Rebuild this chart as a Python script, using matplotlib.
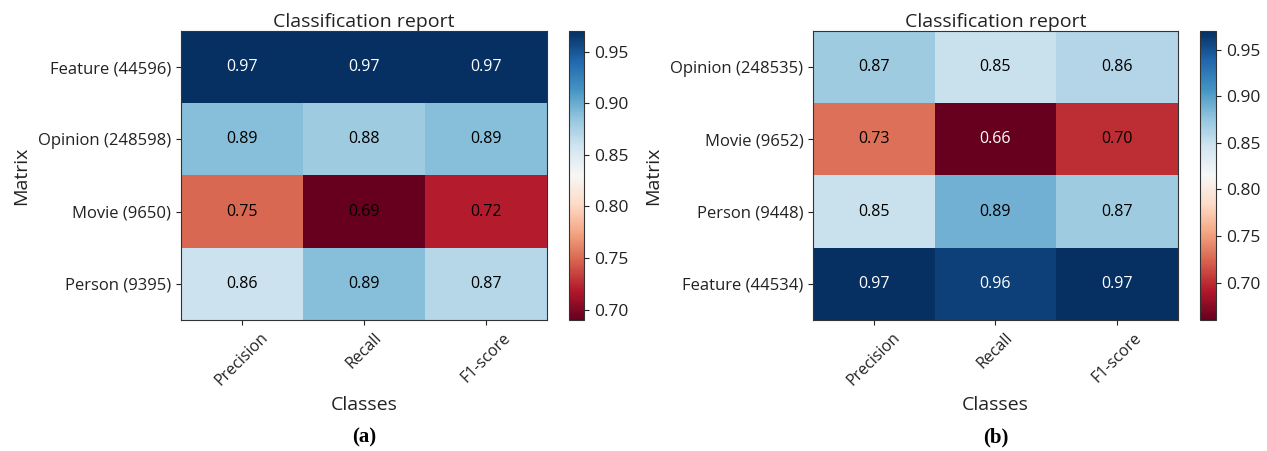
import matplotlib.pyplot as plt
import numpy as np

plt.rcParams['font.family'] = ['Open Sans', 'DejaVu Sans']
plt.rcParams['text.color'] = '#222222'
plt.rcParams['axes.labelcolor'] = '#222222'
plt.rcParams['xtick.color'] = '#222222'
plt.rcParams['ytick.color'] = '#222222'

metrics = ["Precision", "Recall", "F1-score"]

# panel (a)
rows_a = ["Feature (44596)", "Opinion (248598)", "Movie (9650)", "Person (9395)"]
scores_a = [
    [0.97, 0.97, 0.97],
    [0.89, 0.88, 0.89],
    [0.75, 0.69, 0.72],
    [0.86, 0.89, 0.87],
]

# panel (b)
rows_b = ["Opinion (248535)", "Movie (9652)", "Person (9448)", "Feature (44534)"]
scores_b = [
    [0.87, 0.85, 0.86],
    [0.73, 0.66, 0.70],
    [0.85, 0.89, 0.87],
    [0.97, 0.96, 0.97],
]

fig = plt.figure(figsize=(12.67, 4.51), dpi=100)


def draw_report(ax_rect, cax_rect, rows, scores, tag):
    data = np.array(scores)
    ax = fig.add_axes(ax_rect)
    cax = fig.add_axes(cax_rect)
    im = ax.imshow(data, cmap="RdBu", aspect="auto",
                   vmin=data.min(), vmax=data.max(), interpolation="nearest")
    for i in range(data.shape[0]):
        for j in range(data.shape[1]):
            v = data[i, j]
            c = "white" if (v >= 0.95 or v <= 0.66) else "black"
            ax.text(j, i, f"{v:.2f}", ha="center", va="center",
                    color=c, fontsize=11.5)
    ax.set_xticks(np.arange(len(metrics)))
    ax.set_xticklabels(metrics, rotation=45, fontsize=11.5)
    ax.set_yticks(np.arange(len(rows)))
    ax.set_yticklabels(rows, fontsize=12)
    ax.set_title("Classification report", fontsize=14, pad=3)
    ax.set_xlabel("Classes", fontsize=14, labelpad=5)
    ax.set_ylabel("Matrix", fontsize=14, labelpad=6)
    for s in ax.spines.values():
        s.set_color("#333333")
    cb = fig.colorbar(im, cax=cax)
    cb.ax.tick_params(labelsize=12.5)
    cb.outline.set_edgecolor("#333333")
    cx = ax_rect[0] + ax_rect[2] / 2
    fig.text(cx, 0.008, tag, ha="center", va="bottom", fontsize=15,
             fontweight="bold", family="Liberation Serif", color="black")
    return ax


W, H = 1267, 451
draw_report([181 / W, 131 / H, 366 / W, 289 / H],
            [569 / W, 131 / H, 15 / W, 289 / H], rows_a, scores_a, "(a)")
draw_report([813 / W, 131 / H, 365 / W, 289 / H],
            [1200 / W, 131 / H, 16 / W, 289 / H], rows_b, scores_b, "(b)")

fig.savefig("out.png", dpi=100)
